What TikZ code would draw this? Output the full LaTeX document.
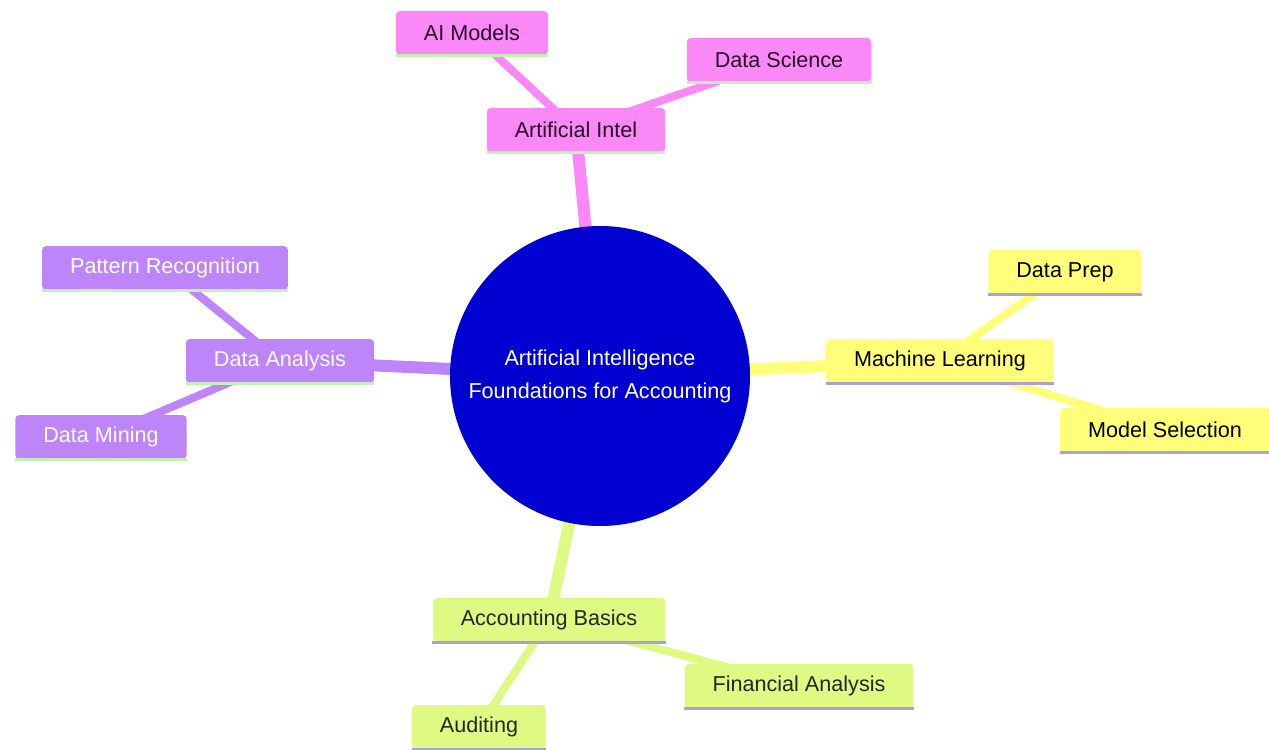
\documentclass[tikz,border=0pt]{standalone}
\usepackage{fontspec}
\setmainfont{Liberation Sans}
\usetikzlibrary{backgrounds}
\definecolor{cpink}{RGB}{250,136,246}
\definecolor{cpurple}{RGB}{190,132,250}
\definecolor{cyellow}{RGB}{255,255,122}
\definecolor{cgreen}{RGB}{222,250,130}
\definecolor{cblue}{RGB}{0,0,208}
\definecolor{lgreen}{RGB}{196,240,180}
\definecolor{lavender}{RGB}{170,160,225}
\definecolor{pinktext}{RGB}{40,10,40}
\begin{document}
\begin{tikzpicture}[x=0.75pt,y=-0.75pt,
  font=\fontsize{16.2pt}{24.8pt}\selectfont,
  box/.style args={#1/#2/#3}{fill=#1, text=#3, rounded corners=3pt, inner xsep=21pt,
    minimum height=33pt, inner ysep=0pt,
    append after command={(\tikzlastnode.south west) edge[draw=#2, line width=2.2pt, rounded corners=0pt] (\tikzlastnode.south east)}},
  pinkbox/.style={box=cpink/lgreen/pinktext},
  purplebox/.style={box=cpurple/lgreen/white},
  yellowbox/.style={box=cyellow/lavender/black},
  greenbox/.style={box=cgreen/lavender/black!85},
  thick1/.style={line width=9pt},
  thick2/.style={line width=6pt}]
\useasboundingbox (0,0) rectangle (1269,749);
\node[circle, fill=cblue, minimum size=225pt, text=white, align=center] (root) at (600,376)
  {Artificial Intelligence\\Foundations for Accounting};
\node[pinkbox] (ai) at (576,130) {Artificial Intel};
\node[pinkbox] (aim) at (472,33) {AI Models};
\node[pinkbox] (ds) at (779,60) {Data Science};
\node[purplebox] (da) at (280,361) {Data Analysis};
\node[purplebox] (pr) at (165,268) {Pattern Recognition};
\node[purplebox] (dm) at (101,437) {Data Mining};
\node[yellowbox] (ml) at (940,361) {Machine Learning};
\node[yellowbox] (dp) at (1065,272) {Data Prep};
\node[yellowbox] (ms) at (1165,430) {Model Selection};
\node[greenbox] (ab) at (549,620) {Accounting Basics};
\node[greenbox] (fa) at (799,686) {Financial Analysis};
\node[greenbox] (au) at (479,727) {Auditing};
\begin{pgfonlayer}{background}
\draw[cpink, thick1] (root.center) -- (ai.center);
\draw[cpink, thick2] (ai.center) -- (aim.center);
\draw[cpink, thick2] (ai.center) -- (ds.center);
\draw[cpurple, thick1] (root.center) -- (da.center);
\draw[cpurple, thick2] (da.center) -- (pr.center);
\draw[cpurple, thick2] (da.center) -- (dm.center);
\draw[cyellow, thick1] (root.center) -- (ml.center);
\draw[cyellow, thick2] (ml.center) -- (dp.center);
\draw[cyellow, thick2] (ml.center) -- (ms.center);
\draw[cgreen, thick1] (root.center) -- (ab.center);
\draw[cgreen, thick2] (ab.center) -- (fa.center);
\draw[cgreen, thick2] (ab.center) -- (au.center);
\end{pgfonlayer}
\end{tikzpicture}
\end{document}
